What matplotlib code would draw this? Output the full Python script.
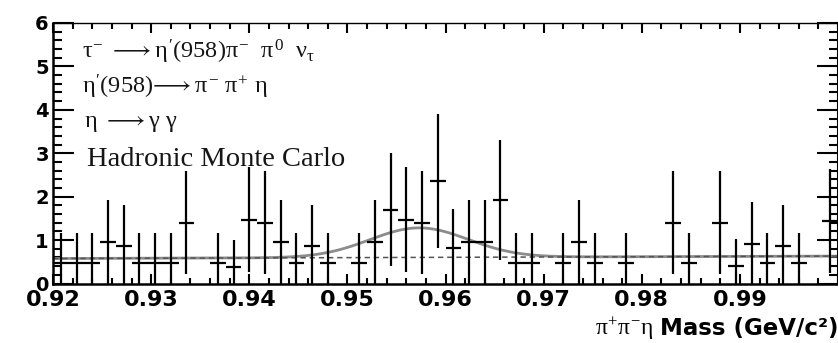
import numpy as np
import matplotlib
matplotlib.use("Agg")
import matplotlib.pyplot as plt
from matplotlib.ticker import AutoMinorLocator, FormatStrFormatter, FixedLocator

# ---- data ----
x_lo, x_hi = 0.92, 1.00
n_bins = 50
counts = [0.48, 0.48, 0.48, 0.95, 0.87, 0.48, 0.48, 0.48, 1.40, 0.00,
          0.48, 0.38, 1.47, 1.40, 0.95, 0.48, 0.87, 0.48, 0.00, 0.48,
          0.95, 1.70, 1.47, 1.40, 2.36, 0.82, 0.95, 0.95, 1.92, 0.48,
          0.48, 0.00, 0.48, 0.95, 0.48, 0.00, 0.48, 0.00, 0.00, 1.40,
          0.48, 0.00, 1.40, 0.40, 0.92, 0.48, 0.87, 0.48, 0.00, 1.43]

# fit parameters (Gaussian peak on linear background)
fit_mean = 0.9573
fit_sigma = 0.0050
fit_amp = 0.68
bkg_at_lo = 0.575
bkg_slope = 0.70

x_ticks = [0.92, 0.93, 0.94, 0.95, 0.96, 0.97, 0.98, 0.99]
y_ticks = [0, 1, 2, 3, 4, 5, 6]

labels = [r"$\tau^{-}\ \longrightarrow\eta^{\prime}(958)\pi^{-}\ \ \pi^{0}\ \ \nu_{\tau}$",
          r"$\eta^{\prime}(958)\!\longrightarrow\pi^{-}\ \pi^{+}\ \eta$",
          r"$\eta\ \longrightarrow\gamma\ \gamma$",
          "Hadronic Monte Carlo"]
xlabel_greek = r"$\pi^{+}\pi^{-}\eta$"
xlabel_text = "Mass (GeV/c\u00b2)"

# ---- style ----
plt.rcParams["mathtext.fontset"] = "custom"
plt.rcParams["mathtext.rm"] = "Liberation Serif"
plt.rcParams["mathtext.it"] = "Liberation Serif"
plt.rcParams["mathtext.bf"] = "Liberation Serif:bold"
plt.rcParams["mathtext.fallback"] = "stix"

W, H = 838, 343
fig = plt.figure(figsize=(W / 100, H / 100), dpi=100)
ax = fig.add_axes([53 / W, (H - 283.5) / H, 785 / W, (283.5 - 23) / H])

edges = np.linspace(x_lo, x_hi, n_bins + 1)
centers = 0.5 * (edges[:-1] + edges[1:])
vals = np.array(counts)
mask = vals > 0
err = np.sqrt(vals)

# fit curves
xf = np.linspace(x_lo, x_hi, 600)
bkg = bkg_at_lo + bkg_slope * (xf - x_lo)
tot = bkg + fit_amp * np.exp(-0.5 * ((xf - fit_mean) / fit_sigma) ** 2)
ax.plot(xf, tot, color="#8c8c8c", lw=2.0, zorder=2, solid_capstyle="butt")
ax.plot(xf, bkg, color="#555555", lw=1.1, ls=(0, (3.5, 2.5)), zorder=2)

ax.errorbar(centers[mask], vals[mask], xerr=(edges[1] - edges[0]) / 2,
            yerr=err[mask], fmt="none", ecolor="black", elinewidth=1.6,
            capsize=0, zorder=3)

ax.set_xlim(x_lo, x_hi)
ax.set_ylim(0, 6)
ax.xaxis.set_major_locator(FixedLocator(x_ticks))
ax.xaxis.set_major_formatter(FormatStrFormatter("%.2f"))
ax.xaxis.set_minor_locator(AutoMinorLocator(5))
ax.yaxis.set_major_locator(FixedLocator(y_ticks))
ax.yaxis.set_major_formatter(FormatStrFormatter("%d"))
ax.yaxis.set_minor_locator(AutoMinorLocator(5))

ax.tick_params(axis="both", which="both", direction="in", top=True, right=True,
               width=1.5, color="black")
ax.tick_params(axis="x", which="major", length=7.5, pad=5, labelsize=16)
ax.tick_params(axis="x", which="minor", length=4)
ax.tick_params(axis="y", which="major", length=15, pad=3, labelsize=14)
ax.tick_params(axis="y", which="minor", length=6.5)
for lab in ax.get_xticklabels() + ax.get_yticklabels():
    lab.set_fontweight("bold")
    lab.set_family("DejaVu Sans")

for s in ["left", "bottom"]:
    ax.spines[s].set_linewidth(1.8)
ax.spines["top"].set_linewidth(1.0)
ax.spines["right"].set_linewidth(1.5)

# annotation text
text_pos = [(82, 58, 17.5), (82, 93, 17.5), (84, 127, 17.5), (87, 166, 20.5)]
for (px, py, fs), t in zip(text_pos, labels):
    fig.text(px / W, 1 - py / H, t, fontsize=fs, family="Liberation Serif",
             color="#151515", va="baseline", ha="left")

t_mass = fig.text(838 / W, 1 - 335 / H, xlabel_text, fontsize=16.5,
                  fontweight="bold", family="DejaVu Sans",
                  va="baseline", ha="right")
fig.canvas.draw()
bb = t_mass.get_window_extent(renderer=fig.canvas.get_renderer())
fig.text((bb.x0 - 6) / W, 1 - 335 / H, xlabel_greek, fontsize=17,
         family="Liberation Serif", va="baseline", ha="right")

fig.savefig("out.png", dpi=100)
